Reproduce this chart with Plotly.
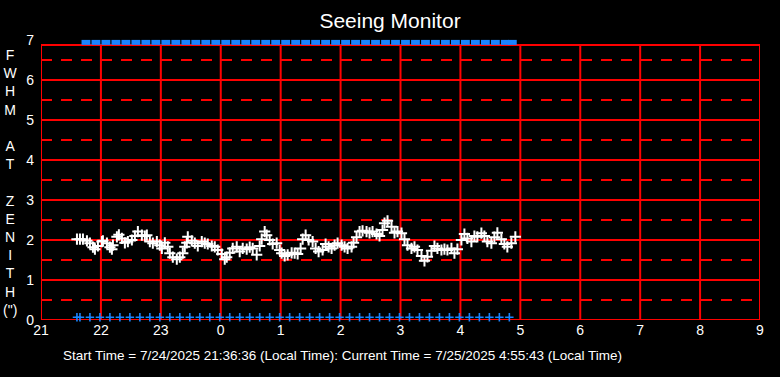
import plotly.graph_objects as go

# minutes since 21:00 on 7/24/2025
seeing_min = [36, 39, 42, 46, 49, 52, 54, 57, 61, 62, 66, 69, 71, 72, 76, 78, 81, 84, 87, 91,
              94, 97, 101, 104, 106, 109, 112, 116, 119, 121, 124, 127, 129, 132, 136, 139, 142, 144, 146, 147,
              151, 154, 157, 161, 164, 167, 171, 174, 177, 181, 184, 186, 189, 192, 196, 199, 202, 206, 209, 212,
              216, 219, 221, 224, 226, 229, 232, 236, 239,
              241, 244, 247, 251, 254, 257, 260, 262, 265, 268, 272, 275, 278, 282, 285, 288, 291, 294, 297, 301,
              304, 307, 311, 313, 316, 319, 322, 326, 329, 332, 336, 339, 342, 344, 347, 351, 354, 357, 361, 364,
              367, 371, 374, 377, 381, 384, 387, 391, 394, 397, 401, 404, 407, 411, 414, 417, 421, 424, 427, 431,
              434, 437, 441, 444, 447, 451, 454, 457, 461, 464, 467, 471, 475]
seeing_fwhm = [2.02, 2.02, 2.02, 1.98, 1.92, 1.82, 1.77, 1.85, 1.96, 1.98, 1.92, 1.82, 1.77, 1.87, 2.08, 2.13, 2.04, 1.93, 1.96, 2.00,
               2.10, 2.21, 2.12, 2.10, 2.12, 1.96, 1.92, 1.96, 1.87, 1.79, 1.93, 1.83, 1.67, 1.57, 1.52, 1.57, 1.67, 1.83, 1.93, 2.08,
               1.98, 1.92, 1.85, 1.96, 1.92, 1.90, 1.85, 1.83, 1.75, 1.65, 1.52, 1.57, 1.68, 1.79, 1.83, 1.71, 1.79, 1.77, 1.82, 1.79,
               1.63, 1.85, 2.02, 2.21, 2.12, 2.00, 1.90, 1.92, 1.75,
               1.67, 1.60, 1.63, 1.68, 1.67, 1.65, 1.79, 2.02, 2.12, 2.00, 1.96, 1.79, 1.71, 1.75, 1.90, 1.83, 1.79, 1.87, 1.92, 1.87,
               1.83, 1.79, 1.83, 1.93, 2.07, 2.21, 2.23, 2.21, 2.18, 2.21, 2.15, 2.10, 2.25, 2.42, 2.48, 2.33, 2.18, 2.21, 2.17, 2.02,
               1.87, 1.79, 1.83, 1.75, 1.60, 1.48, 1.58, 1.73, 1.85, 1.79, 1.75, 1.77, 1.75, 1.79, 1.67, 1.77, 2.00, 2.15, 2.04, 1.96,
               2.10, 2.08, 2.17, 2.10, 1.96, 1.92, 2.07, 2.18, 2.02, 1.90, 1.83, 1.92, 2.08]

bottom_min = [36, 39, 49, 59, 69, 79, 89, 99, 109, 119, 129, 139, 149, 159, 169, 179, 189, 199, 209, 219,
              229, 239, 249, 259, 269, 279, 289, 299, 309, 319, 329, 339, 349, 359, 369, 379, 389, 399, 409, 419,
              429, 439, 449, 459, 469]
bottom_val = [0.07] * len(bottom_min)

top_min = [45, 55, 65, 75, 85, 95, 105, 115, 125, 135, 145, 155, 165, 175, 185, 195, 205, 215, 225, 235,
           245, 255, 265, 275, 285, 295, 305, 315, 325, 335, 345, 355, 365, 375, 385, 395, 405, 415, 425, 435,
           445, 455, 465, 472]
top_val = [6.94] * len(top_min)

x_tick_vals = [0, 60, 120, 180, 240, 300, 360, 420, 480, 540, 600, 660, 720]
x_tick_text = ["21", "22", "23", "0", "1", "2", "3", "4", "5", "6", "7", "8", "9"]
y_tick_vals = [0, 1, 2, 3, 4, 5, 6, 7]
y_solid = [1, 2, 3, 4, 5, 6]
y_dashed = [0.5, 1.5, 2.5, 3.5, 4.5, 5.5, 6.5]
plot_top = 6.875

title_text = "Seeing Monitor"
y_label = "F<br>W<br>H<br>M<br><br>A<br>T<br><br>Z<br>E<br>N<br>I<br>T<br>H<br>(\")"
footer = "Start Time = 7/24/2025 21:36:36 (Local Time): Current Time = 7/25/2025 4:55:43 (Local Time)"

RED = "#ff0000"
BLUE = "#1a84ff"
FONT = "Liberation Sans, Arial, sans-serif"

fig = go.Figure()
fig.add_trace(go.Scatter(x=seeing_min, y=seeing_fwhm, mode="markers",
                         marker=dict(symbol="cross-thin", size=8, line=dict(color="white", width=2)),
                         cliponaxis=False, showlegend=False))
fig.add_trace(go.Scatter(x=bottom_min, y=bottom_val, mode="markers",
                         marker=dict(symbol="cross-thin", size=6, line=dict(color=BLUE, width=1.6)),
                         cliponaxis=False, showlegend=False))
fig.add_trace(go.Scatter(x=top_min, y=top_val, mode="markers",
                         marker=dict(symbol="line-ew", size=6.3, line=dict(color=BLUE, width=5)),
                         cliponaxis=False, showlegend=False))

shapes = []
for xv in x_tick_vals:
    shapes.append(dict(type="line", xref="x", yref="y", x0=xv, x1=xv, y0=0, y1=plot_top,
                       line=dict(color=RED, width=2), layer="below"))
for yv in y_solid:
    shapes.append(dict(type="line", xref="x", yref="y", x0=0, x1=720, y0=yv, y1=yv,
                       line=dict(color=RED, width=2), layer="below"))
for yv in y_dashed:
    shapes.append(dict(type="line", xref="x", yref="y", x0=0, x1=720, y0=yv, y1=yv,
                       line=dict(color=RED, width=2, dash="11px,9px"), layer="below"))
shapes.append(dict(type="line", xref="x", yref="y", x0=0, x1=720, y0=plot_top, y1=plot_top,
                   line=dict(color=RED, width=2), layer="below"))
shapes.append(dict(type="line", xref="x", yref="y", x0=0, x1=720, y0=0, y1=0,
                   line=dict(color=RED, width=2), layer="below"))

fig.update_layout(
    width=780, height=377,
    paper_bgcolor="black", plot_bgcolor="black",
    margin=dict(l=41, r=20, t=40, b=57),
    font=dict(family=FONT, color="white", size=14),
    title=dict(text=title_text, x=0.5, xanchor="center", y=0.945, yanchor="middle",
               font=dict(size=21, color="white", family=FONT)),
    xaxis=dict(range=[0, 720], tickvals=x_tick_vals, ticktext=x_tick_text,
               showgrid=False, showline=False, zeroline=False, ticks="",
               tickfont=dict(size=14, color="white")),
    yaxis=dict(range=[0, 7], tickvals=y_tick_vals, ticklabelstandoff=6,
               showgrid=False, showline=False, zeroline=False, ticks="",
               tickfont=dict(size=14, color="white")),
    shapes=shapes,
    showlegend=False,
)

fig.add_annotation(text=y_label, xref="paper", yref="paper", x=-0.043, y=0.49,
                   xanchor="center", yanchor="middle", showarrow=False,
                   font=dict(size=14, color="white", family=FONT))
fig.add_annotation(text=footer, xref="paper", yref="paper", x=0.419, y=-0.125,
                   xanchor="center", yanchor="middle", showarrow=False,
                   font=dict(size=13.5, color="white", family=FONT))

fig.write_html("out.html", config={"displayModeBar": False},
               post_script="document.body.style.margin='0';")
